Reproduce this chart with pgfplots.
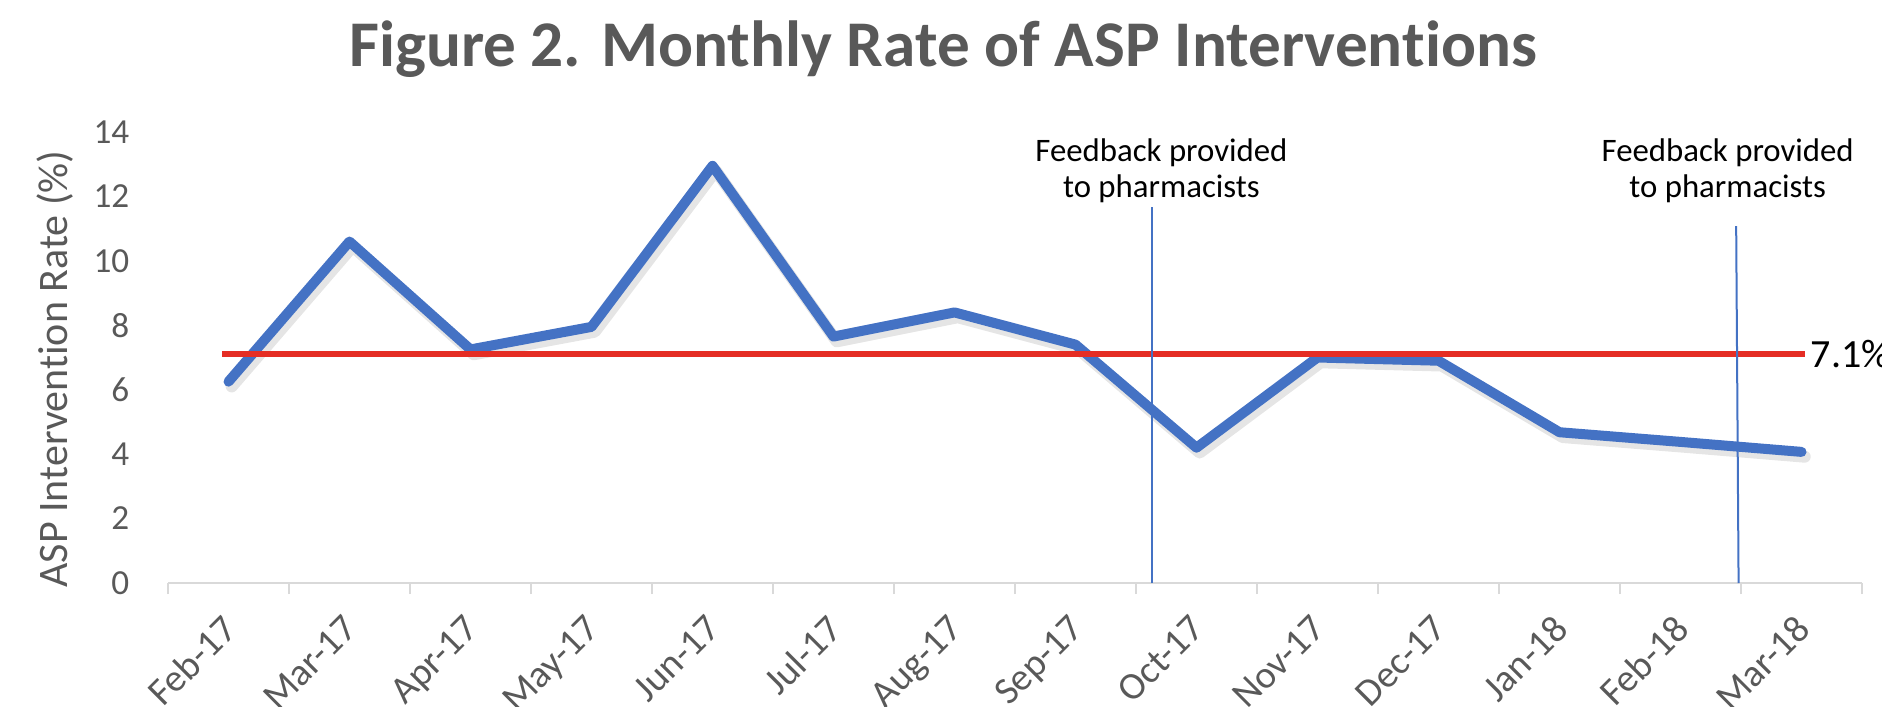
\documentclass[border=0pt]{standalone}
\usepackage{fontspec}
\setmainfont{Carlito}[Ligatures=NoCommon]
\usepackage{pgfplots}
\pgfplotsset{compat=1.18}
\definecolor{exblue}{RGB}{68,114,196}
\definecolor{exred}{RGB}{229,45,36}
\definecolor{txtgray}{RGB}{89,89,89}
\definecolor{axgray}{RGB}{217,217,217}
\begin{document}
\begin{tikzpicture}
\useasboundingbox (-42pt,-30.75pt) rectangle (428.5pt,145.75pt);
\begin{axis}[
  at={(0,0)}, anchor=south west,
  scale only axis, width=423.5pt, height=112.75pt,
  xmin=-0.5, xmax=13.5, ymin=0, ymax=14,
  axis line style={draw=none},
  tick pos=left, tick align=outside, major tick length=2.75pt,
  xtick={0,...,13},
  xticklabels={Feb-17,Mar-17,Apr-17,May-17,Jun-17,Jul-17,Aug-17,Sep-17,Oct-17,Nov-17,Dec-17,Jan-18,Feb-18,Mar-18},
  xtick style={draw=none},
  xticklabel style={xshift=-2pt, yshift=-4.5pt, rotate=45, anchor=north east, inner sep=0pt, font=\fontsize{9.6}{11}\selectfont, text=txtgray},
  ytick={0,2,...,14},
  ytick style={draw=none},
  yticklabel style={anchor=east, inner sep=0pt, xshift=-6.75pt, font=\fontsize{8.8}{10}\selectfont, text=txtgray},
  extra x ticks={-0.5,0.5,...,13.5},
  extra x tick labels={},
  extra x tick style={xtick style={draw=axgray, line width=0.5pt}},
  /pgf/number format/assume math mode=true,
  clip=false,
]
\draw[axgray, line width=0.6pt] (axis cs:-0.5,0) -- (axis cs:13.5,0);
\addplot[black, opacity=0.10, line width=3pt, line join=round, line cap=round, xshift=0.8pt, yshift=-1.2pt] coordinates {
(0,6.25) (1,10.6) (2,7.25) (3,7.95) (4,12.95) (5,7.65) (6,8.4) (7,7.4) (8,4.2) (9,7.0) (10,6.9) (11,4.68) (12,4.38) (13,4.07)};
\addplot[exblue, line width=2.5pt, line join=round, line cap=round] coordinates {
(0,6.25) (1,10.6) (2,7.25) (3,7.95) (4,12.95) (5,7.65) (6,8.4) (7,7.4) (8,4.2) (9,7.0) (10,6.9) (11,4.68) (12,4.38) (13,4.07)};
\addplot[exred, line width=1.5pt] coordinates {(-0.05,7.1) (13.03,7.1)};
\addplot[exblue, line width=0.5pt] coordinates {(7.63,0) (7.63,11.67)};
\addplot[exblue, line width=0.5pt] coordinates {(12.48,0) (12.46,11.08)};
\node[anchor=base, inner sep=0pt, font=\fontsize{8.2}{10}\selectfont] at (axis cs:7.71,13.07) {Feedback provided};
\node[anchor=base, inner sep=0pt, font=\fontsize{8.2}{10}\selectfont] at (axis cs:7.71,11.98) {to pharmacists};
\node[anchor=base, inner sep=0pt, font=\fontsize{8.2}{10}\selectfont] at (axis cs:12.39,13.07) {Feedback provided};
\node[anchor=base, inner sep=0pt, font=\fontsize{8.2}{10}\selectfont] at (axis cs:12.39,11.98) {to pharmacists};
\node[anchor=west, inner sep=0pt, font=\fontsize{10}{12}\selectfont] at (axis cs:13.07,7.1) {7.1\%};
\end{axis}
\node[anchor=base, inner sep=0pt, font=\bfseries\fontsize{16.3}{20}\selectfont, text=txtgray] at (193.75pt,129pt) {Figure 2. Monthly Rate of ASP Interventions};
\node[rotate=90, inner sep=0pt, font=\fontsize{10.5}{12}\selectfont, text=txtgray] at (-28.25pt,53.5pt) {ASP Intervention Rate (\%)};
\end{tikzpicture}
\end{document}
